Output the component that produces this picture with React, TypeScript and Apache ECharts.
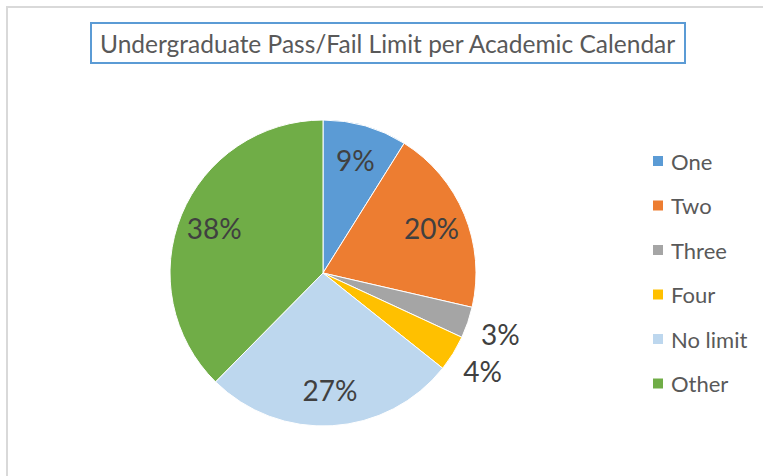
import React, { useEffect, useRef } from "react";
import * as echarts from "echarts";

const categories = ["One", "Two", "Three", "Four", "No limit", "Other"];
const values = [8.9, 19.7, 3.3, 3.8, 26.7, 37.6];
const colors = ["#5b9bd5", "#ed7d31", "#a5a5a5", "#ffc000", "#bdd7ee", "#70ad47"];
const insideLabelled = ["One", "Two", "No limit", "Other"];
const outsideLabelled = ["Three", "Four"];
const titleText = "Undergraduate Pass/Fail Limit per Academic Calendar";

const total = values.reduce((a, b) => a + b, 0);
const pctLabel = (p: any) => Math.round((p.value / total) * 100) + "%";

export default function App() {
  const ref = useRef<HTMLDivElement>(null);
  useEffect(() => {
    if (!ref.current) return;
    const chart = echarts.init(ref.current, null, { renderer: "svg" });
    const font = "Lato, 'Open Sans', sans-serif";
    const center = [323, 273];
    const overlay = (names: string[], radius: number[]) => ({
      type: "pie",
      silent: true,
      center,
      radius,
      startAngle: 90,
      clockwise: true,
      z: 3,
      itemStyle: { color: "transparent", borderWidth: 0 },
      emphasis: { disabled: true },
      labelLine: { show: false },
      label: {
        show: true,
        position: "inside",
        formatter: (p: any) => (names.includes(p.name) ? pctLabel(p) : ""),
        fontFamily: font,
        fontSize: 28,
        color: "#404040",
      },
      data: categories.map((c, i) => ({ name: c, value: values[i] })),
    });
    chart.setOption({
      animation: false,
      graphic: [
        {
          type: "rect",
          z: -10,
          shape: { x: 7, y: 7, width: 820, height: 520 },
          style: { fill: "#ffffff", stroke: "#d9d9d9", lineWidth: 2 },
        },
      ],
      title: {
        text: titleText,
        left: 91,
        top: 23,
        borderColor: "#5b9bd5",
        borderWidth: 2,
        padding: [6, 9, 6, 9],
        textStyle: {
          fontFamily: font,
          fontSize: 24.5,
          fontWeight: "normal",
          color: "#595959",
          lineHeight: 28,
        },
      },
      legend: {
        orient: "vertical",
        left: 651,
        top: 150,
        padding: 0,
        itemWidth: 12,
        itemHeight: 12,
        itemGap: 22.5,
        icon: "rect",
        data: categories,
        selectedMode: false,
        textStyle: { fontFamily: font, fontSize: 22, color: "#595959", padding: [0, 0, 0, 2] },
      },
      series: [
        {
          type: "pie",
          center,
          radius: [0, 153],
          startAngle: 90,
          clockwise: true,
          z: 2,
          label: { show: false },
          labelLine: { show: false },
          emphasis: { disabled: true },
          itemStyle: { borderColor: "#ffffff", borderWidth: 1 },
          data: categories.map((c, i) => ({
            name: c,
            value: values[i],
            itemStyle: { color: colors[i] },
          })),
        },
        overlay(insideLabelled, [76, 153]),
        overlay(outsideLabelled, [157, 212]),
      ],
    });
    return () => chart.dispose();
  }, []);
  return (
    <div
      ref={ref}
      style={{ position: "absolute", left: 0, top: 0, width: 763, height: 476 }}
    />
  );
}
